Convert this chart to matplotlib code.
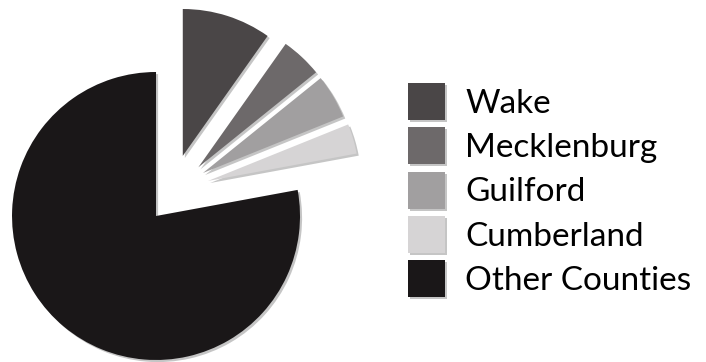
"""Pie chart: share by county (Wake, Mecklenburg, Guilford, Cumberland, others)."""
import numpy as np
import matplotlib
matplotlib.use("Agg")
import matplotlib.pyplot as plt
import matplotlib.patheffects as pe

counties = ["Wake", "Mecklenburg", "Guilford", "Cumberland", "Other Counties"]
shares = [9.8, 4.4, 4.7, 3.2, 77.9]
colors = ["#4a4647", "#6d696a", "#a19fa0", "#d6d4d5", "#1a1718"]
# pull-out distance (pie radii), direction (deg) and radius of each wedge
pull_dist = [0.457, 0.448, 0.442, 0.435, 0.0]
pull_dir = [66, 49, 42.5, 34, 0]
wedge_r = [1.02, 1.05, 1.05, 1.05, 1.0]

plt.rcParams["font.family"] = ["Lato", "DejaVu Sans"]

fig = plt.figure(figsize=(7.06, 3.62), dpi=100)
ax = fig.add_axes([0, 0, 1, 1])

wedges, _ = ax.pie(shares, colors=colors, startangle=90, counterclock=False,
                   radius=1.0, wedgeprops=dict(linewidth=0))
for w, d, a, r in zip(wedges, pull_dist, pull_dir, wedge_r):
    w.set_center((d * np.cos(np.radians(a)), d * np.sin(np.radians(a))))
    w.set_radius(r)
    w.set_path_effects([pe.SimplePatchShadow(offset=(1.5, -1.5), shadow_rgbFace="0.55",
                                             alpha=0.5), pe.Normal()])

ax.set_xlim(-1.083, 3.819)
ax.set_ylim(-1.014, 1.5)
ax.set_aspect("equal")
ax.axis("off")

ax.legend(wedges, counties, loc="upper left",
          bbox_to_anchor=(408 / 706, 1 - 83 / 362), bbox_transform=fig.transFigure,
          frameon=False, fontsize=24, handlelength=1.11, handleheight=1.33,
          labelspacing=0.22, handletextpad=0.6, borderpad=0, borderaxespad=0)

fig.savefig("out.png", dpi=100)
